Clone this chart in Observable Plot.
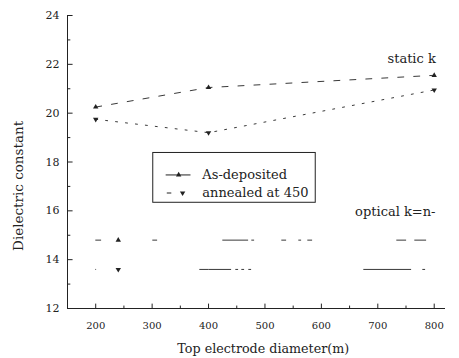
<!DOCTYPE html>
<html><head><meta charset="utf-8">
<script src="https://cdn.jsdelivr.net/npm/d3@7"></script>
<script src="https://cdn.jsdelivr.net/npm/@observablehq/plot@0.6"></script>
<style>body{margin:0;background:#fff}</style>
</head><body><div id="chart"></div>
<script>
const diameters = [200, 400, 800];
const staticAsDep = [20.25, 21.05, 21.55];
const staticAnnealed = [19.75, 19.2, 20.95];
const opticalX = [200, 400, 800];
const opticalAsDep = [14.8, 14.8, 14.8];
const opticalAnnealed = [13.6, 13.6, 13.6];
const opticalMarkX = [240];
const xTicks = [200, 300, 400, 500, 600, 700, 800];
const xMinor = [150, 250, 350, 450, 550, 650, 750];
const yTicks = [12, 14, 16, 18, 20, 22, 24];
const yMinor = [13, 15, 17, 19, 21, 23];

const ink = "#222";
const ff = "DejaVu Serif";
const sAD = diameters.map((d, i) => ({x: d, y: staticAsDep[i]}));
const sAN = diameters.map((d, i) => ({x: d, y: staticAnnealed[i]}));
const oAD = opticalX.map((d, i) => ({x: d, y: opticalAsDep[i]}));
const oAN = opticalX.map((d, i) => ({x: d, y: opticalAnnealed[i]}));

const chart = Plot.plot({
  width: 459, height: 358,
  marginLeft: 67, marginRight: 14, marginTop: 15, marginBottom: 50,
  style: {color: ink, background: "#fff", fontFamily: ff},
  x: {domain: [150, 820], axis: null},
  y: {domain: [12, 24], axis: null},
  marks: [
    Plot.ruleX([150], {y1: 12, y2: 24, stroke: ink}),
    Plot.ruleY([12], {x1: 150, x2: 820, stroke: ink}),
    Plot.link(yTicks, {x1: 150, x2: 159, y1: d => d, y2: d => d, stroke: ink}),
    Plot.link(yMinor, {x1: 150, x2: 155, y1: d => d, y2: d => d, stroke: ink}),
    Plot.link(xTicks, {x1: d => d, x2: d => d, y1: 12, y2: 12.2, stroke: ink}),
    Plot.link(xMinor, {x1: d => d, x2: d => d, y1: 12, y2: 12.12, stroke: ink}),
    Plot.text(yTicks, {x: 150, y: d => d, text: d => String(d), dx: -8, textAnchor: "end", fontSize: 11, fontFamily: ff, fill: ink}),
    Plot.text(xTicks, {x: d => d, y: 12, text: d => String(d), dy: 17, fontSize: 10, fontFamily: ff, fill: ink}),
    Plot.line(sAD, {x: "x", y: "y", stroke: ink, strokeWidth: 0.9, strokeDasharray: "6,10"}),
    Plot.line(sAN, {x: "x", y: "y", stroke: ink, strokeWidth: 0.9, strokeDasharray: "2,8"}),
    Plot.dot(sAD, {x: "x", y: "y", symbol: "triangle", r: 2, fill: ink}),
    Plot.dot(sAN, {x: "x", y: "y", symbol: "triangle", rotate: 180, r: 2, fill: ink}),
    Plot.line(oAD, {x: "x", y: "y", stroke: ink, strokeWidth: 0.9, strokeDasharray: "5,52,4,66,25,4,2,28,4,13,2,7,4,85,9,9,11,40"}),
    Plot.line(oAN, {x: "x", y: "y", stroke: ink, strokeWidth: 0.9, strokeDasharray: "0,104,31,5,2,4,2,5,2,113,47,12,2,40"}),
    Plot.dot(opticalMarkX, {x: d => d, y: opticalAsDep[0], symbol: "triangle", r: 2, fill: ink}),
    Plot.dot(opticalMarkX, {x: d => d, y: opticalAnnealed[0], symbol: "triangle", rotate: 180, r: 2, fill: ink}),
    Plot.text(["static k"], {x: 760, y: 22.24, text: d => d, fontSize: 13, fontFamily: ff, fill: ink}),
    Plot.text(["optical k=n-"], {x: 731, y: 15.96, text: d => d, fontSize: 13, fontFamily: ff, fill: ink}),
    Plot.rect([0], {x1: 302, x2: 590, y1: 16.33, y2: 18.37, fill: "none", stroke: ink, strokeWidth: 1}),
    Plot.link([0], {x1: 324, x2: 368, y1: 17.47, y2: 17.47, stroke: ink}),
    Plot.dot([0], {x: 347, y: 17.47, symbol: "triangle", r: 2, fill: ink}),
    Plot.text(["As-deposited"], {x: 389, y: 17.47, text: d => d, textAnchor: "start", fontSize: 13, fontFamily: ff, fill: ink}),
    Plot.link([0], {x1: 326, x2: 334, y1: 16.73, y2: 16.73, stroke: ink}),
    Plot.dot([0], {x: 354, y: 16.73, symbol: "triangle", rotate: 180, r: 2, fill: ink}),
    Plot.text(["annealed at 450"], {x: 389, y: 16.73, text: d => d, textAnchor: "start", fontSize: 13, fontFamily: ff, fill: ink}),
    Plot.text(["Top electrode diameter(m)"], {x: 497, y: 12, text: d => d, dy: 40, fontSize: 12.7, fontFamily: ff, fill: ink}),
    Plot.text(["Dielectric constant"], {x: 150, y: 17.02, text: d => d, dx: -49, rotate: -90, fontSize: 13.5, fontFamily: ff, fill: ink})
  ]
});
document.getElementById("chart").appendChild(chart);
</script>
</body></html>
